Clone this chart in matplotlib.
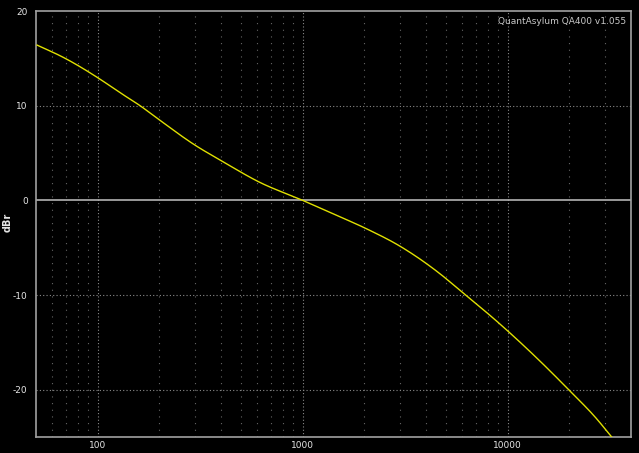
import numpy as np
import matplotlib
matplotlib.use("Agg")
import matplotlib.pyplot as plt
from matplotlib.ticker import FixedLocator, NullFormatter

# Response (Hz, dBr)
freq_hz = [50.6, 68, 101, 128, 161, 200, 300, 400, 618, 1000, 1400, 2048, 2963,
           4643, 6000, 8780, 14260, 19850, 27000, 32200]
level_dbr = [16.4, 15.1, 12.9, 11.4, 10.0, 8.5, 5.8, 4.2, 1.9, 0.0, -1.4, -3.0, -4.8,
             -7.7, -9.7, -12.7, -16.9, -20.0, -23.0, -25.0]

x_ticks = [100, 1000, 10000]
x_tick_labels = ["100", "1000", "10000"]
y_ticks = [-20, -10, 0, 10, 20]


def hermite_curve(x, y, n_per=30):
    # cubic Hermite through the read points, slopes from neighbouring points
    x = np.asarray(x, float)
    y = np.asarray(y, float)
    m = np.gradient(y, x)
    xs, ys = [], []
    for i in range(len(x) - 1):
        h = x[i + 1] - x[i]
        t = np.linspace(0, 1, n_per, endpoint=False)
        h00 = 2 * t**3 - 3 * t**2 + 1
        h10 = t**3 - 2 * t**2 + t
        h01 = -2 * t**3 + 3 * t**2
        h11 = t**3 - t**2
        xs.append(x[i] + t * h)
        ys.append(h00 * y[i] + h10 * h * m[i] + h01 * y[i + 1] + h11 * h * m[i + 1])
    xs.append([x[-1]])
    ys.append([y[-1]])
    return np.concatenate(xs), np.concatenate(ys)


lf_fine, curve = hermite_curve(np.log10(freq_hz), level_dbr)

fig = plt.figure(figsize=(6.39, 4.53), dpi=100, facecolor="black")
ax = fig.add_axes([0.0563, 0.0353, 0.9312, 0.9404], facecolor="black")

ax.set_xscale("log")
ax.set_xlim(50, 40000)
ax.set_ylim(-25, 20)

# Grid
minor_x = [m * 10**d for d in range(1, 5) for m in range(2, 10)]
minor_x = [v for v in minor_x if 50 < v < 40000]
for v in minor_x:
    ax.axvline(v, color="#666666", lw=0.8, linestyle=(0, (1, 5)), zorder=1)
for v in x_ticks:
    ax.axvline(v, color="#8a8a8a", lw=0.8, linestyle=(0, (1, 2)), zorder=1)
for v in [-20, -10, 10]:
    ax.axhline(v, color="#8a8a8a", lw=0.8, linestyle=(0, (1, 2)), zorder=1)
ax.axhline(0, color="#b4b4b4", lw=1.2, zorder=2)

ax.plot(10**lf_fine, curve, color="#e0e000", lw=1.0, zorder=3)

ax.xaxis.set_major_locator(FixedLocator(x_ticks))
ax.set_xticklabels(x_tick_labels)
ax.xaxis.set_minor_locator(FixedLocator(minor_x))
ax.xaxis.set_minor_formatter(NullFormatter())
ax.set_yticks(y_ticks)
ax.set_yticklabels([str(v) for v in y_ticks])
ax.tick_params(axis="both", which="both", length=0, colors="#e6e6e6", labelsize=6.5)
ax.tick_params(axis="x", pad=3)
ax.tick_params(axis="y", pad=6)

for side in ["left", "bottom", "top", "right"]:
    ax.spines[side].set_color("#a0a0a0")
    ax.spines[side].set_linewidth(1.2)

fig.text(8 / 639, 1 - 222 / 453, "dBr", rotation=90, ha="center", va="center",
         color="#e6e6e6", fontsize=7, fontweight="bold")
ax.text(0.992, 0.985, "QuantAsylum QA400 v1.055", transform=ax.transAxes,
        ha="right", va="top", color="#c8c8c8", fontsize=6.5)

fig.savefig("out.png", dpi=100, facecolor="black")
